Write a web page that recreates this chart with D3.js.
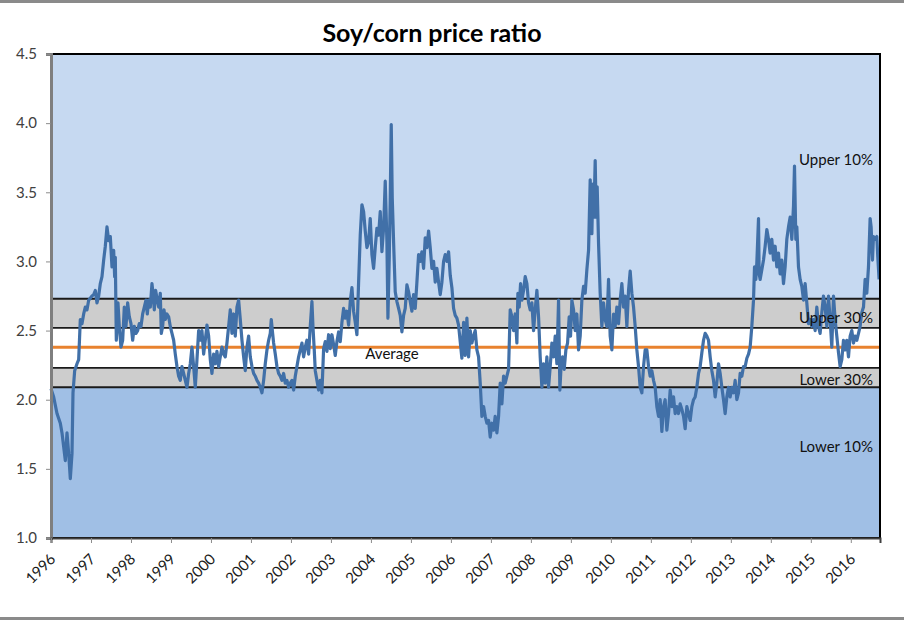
<!DOCTYPE html>
<html>
<head>
<meta charset="utf-8">
<script src="https://cdn.jsdelivr.net/npm/d3@7"></script>
<style>
  body { margin: 0; background: #fff; }
  text { font-family: Lato, "Open Sans", sans-serif; }
</style>
</head>
<body>
<div id="chart"></div>
<script>
"use strict";

// soy/corn ratio: [decimal year, ratio]
var ratioSeries = [
  [1996.000,2.08],[1996.067,2.02],[1996.150,1.90],[1996.233,1.83],[1996.275,1.76],[1996.317,1.66],[1996.358,1.56],[1996.400,1.76],[1996.442,1.61],[1996.483,1.43],[1996.525,1.61],[1996.550,2.05],[1996.592,2.21],[1996.650,2.26],[1996.692,2.29],[1996.733,2.58],[1996.775,2.55],[1996.817,2.62],[1996.858,2.67],[1996.900,2.65],[1996.942,2.72],
  [1997.025,2.75],[1997.067,2.76],[1997.108,2.79],[1997.150,2.70],[1997.192,2.75],[1997.233,2.84],[1997.275,2.89],[1997.317,3.01],[1997.358,3.11],[1997.400,3.25],[1997.442,3.15],[1997.483,3.18],[1997.525,2.96],[1997.567,3.08],[1997.592,2.89],[1997.608,3.03],[1997.633,2.43],[1997.675,2.70],[1997.708,2.53],[1997.750,2.38],[1997.792,2.43],[1997.833,2.67],[1997.875,2.53],[1997.917,2.70],[1997.958,2.60],
  [1998.000,2.55],[1998.042,2.43],[1998.083,2.53],[1998.125,2.48],[1998.167,2.50],[1998.208,2.55],[1998.250,2.53],[1998.292,2.62],[1998.333,2.67],[1998.375,2.72],[1998.408,2.62],[1998.442,2.72],[1998.483,2.67],[1998.525,2.84],[1998.550,2.77],[1998.583,2.65],[1998.617,2.79],[1998.658,2.72],[1998.692,2.67],[1998.733,2.77],[1998.758,2.48],[1998.792,2.53],[1998.825,2.65],[1998.858,2.58],[1998.900,2.62],[1998.942,2.60],[1998.983,2.53],
  [1999.025,2.48],[1999.067,2.43],[1999.108,2.33],[1999.150,2.24],[1999.192,2.17],[1999.233,2.14],[1999.275,2.24],[1999.317,2.19],[1999.358,2.14],[1999.400,2.09],[1999.442,2.19],[1999.483,2.26],[1999.525,2.38],[1999.567,2.24],[1999.608,2.09],[1999.650,2.29],[1999.692,2.50],[1999.733,2.43],[1999.775,2.50],[1999.817,2.33],[1999.858,2.43],[1999.900,2.54],[1999.942,2.46],[1999.983,2.29],
  [2000.025,2.19],[2000.067,2.33],[2000.108,2.26],[2000.150,2.35],[2000.192,2.24],[2000.233,2.31],[2000.275,2.38],[2000.317,2.33],[2000.358,2.31],[2000.400,2.41],[2000.442,2.53],[2000.483,2.65],[2000.525,2.48],[2000.567,2.62],[2000.608,2.46],[2000.650,2.67],[2000.692,2.72],[2000.733,2.58],[2000.775,2.43],[2000.817,2.31],[2000.858,2.21],[2000.900,2.38],[2000.942,2.46],[2000.983,2.31],
  [2001.025,2.24],[2001.067,2.19],[2001.108,2.17],[2001.150,2.14],[2001.192,2.12],[2001.233,2.09],[2001.275,2.05],[2001.317,2.14],[2001.358,2.26],[2001.400,2.36],[2001.442,2.43],[2001.483,2.48],[2001.508,2.58],[2001.542,2.48],[2001.567,2.41],[2001.608,2.33],[2001.650,2.24],[2001.692,2.19],[2001.733,2.17],[2001.775,2.14],[2001.817,2.19],[2001.858,2.12],[2001.900,2.14],[2001.942,2.09],[2001.983,2.12],
  [2002.025,2.14],[2002.067,2.07],[2002.108,2.17],[2002.150,2.24],[2002.192,2.31],[2002.233,2.36],[2002.275,2.41],[2002.317,2.31],[2002.358,2.38],[2002.400,2.43],[2002.442,2.33],[2002.483,2.53],[2002.525,2.71],[2002.550,2.53],[2002.583,2.36],[2002.608,2.21],[2002.650,2.14],[2002.692,2.07],[2002.733,2.14],[2002.775,2.05],[2002.817,2.37],[2002.858,2.42],[2002.900,2.35],[2002.942,2.47],[2002.983,2.37],
  [2003.025,2.47],[2003.067,2.40],[2003.108,2.32],[2003.150,2.42],[2003.192,2.49],[2003.233,2.42],[2003.275,2.56],[2003.317,2.66],[2003.358,2.59],[2003.400,2.64],[2003.442,2.54],[2003.483,2.71],[2003.525,2.81],[2003.567,2.64],[2003.608,2.56],[2003.650,2.47],[2003.692,2.85],[2003.733,3.19],[2003.775,3.41],[2003.817,3.36],[2003.858,3.22],[2003.900,3.10],[2003.942,3.14],[2003.983,3.31],
  [2004.025,3.05],[2004.067,2.95],[2004.108,3.10],[2004.150,3.24],[2004.192,3.19],[2004.233,3.36],[2004.275,3.07],[2004.317,3.24],[2004.358,3.58],[2004.400,3.14],[2004.425,2.59],[2004.458,3.02],[2004.483,3.46],[2004.508,3.99],[2004.533,3.46],[2004.567,3.14],[2004.608,2.78],[2004.650,2.71],[2004.692,2.66],[2004.733,2.61],[2004.775,2.49],[2004.817,2.61],[2004.858,2.66],[2004.900,2.83],[2004.942,2.78],[2004.983,2.71],
  [2005.025,2.64],[2005.067,2.76],[2005.108,2.66],[2005.150,2.85],[2005.192,3.05],[2005.233,3.00],[2005.275,3.07],[2005.317,2.95],[2005.358,3.17],[2005.400,3.10],[2005.442,3.22],[2005.483,3.10],[2005.525,2.95],[2005.567,3.00],[2005.608,2.85],[2005.650,2.95],[2005.692,2.85],[2005.733,2.76],[2005.775,2.85],[2005.817,3.00],[2005.858,3.05],[2005.900,3.00],[2005.942,3.07],[2005.983,2.90],
  [2006.025,2.81],[2006.067,2.66],[2006.108,2.61],[2006.150,2.59],[2006.192,2.54],[2006.233,2.42],[2006.275,2.30],[2006.317,2.56],[2006.358,2.32],[2006.400,2.59],[2006.442,2.31],[2006.483,2.50],[2006.525,2.41],[2006.567,2.46],[2006.608,2.50],[2006.650,2.36],[2006.692,2.31],[2006.733,2.12],[2006.775,1.88],[2006.817,1.95],[2006.858,1.88],[2006.900,1.83],[2006.942,1.85],[2006.983,1.73],
  [2007.025,1.83],[2007.067,1.78],[2007.108,1.88],[2007.150,1.76],[2007.192,1.88],[2007.233,2.12],[2007.275,1.97],[2007.317,2.17],[2007.358,2.12],[2007.400,2.17],[2007.442,2.22],[2007.483,2.65],[2007.525,2.60],[2007.567,2.50],[2007.608,2.62],[2007.650,2.41],[2007.675,2.77],[2007.708,2.67],[2007.742,2.84],[2007.775,2.72],[2007.817,2.79],[2007.858,2.89],[2007.900,2.84],[2007.942,2.70],[2007.983,2.65],
  [2008.025,2.70],[2008.067,2.50],[2008.108,2.65],[2008.150,2.79],[2008.192,2.60],[2008.233,2.31],[2008.275,2.09],[2008.317,2.26],[2008.358,2.12],[2008.400,2.31],[2008.442,2.09],[2008.483,2.24],[2008.525,2.41],[2008.567,2.31],[2008.608,2.46],[2008.650,2.26],[2008.692,2.72],[2008.725,2.07],[2008.758,2.26],[2008.792,2.31],[2008.833,2.22],[2008.875,2.36],[2008.917,2.41],[2008.958,2.60],[2008.992,2.46],
  [2009.025,2.72],[2009.067,2.65],[2009.108,2.50],[2009.150,2.62],[2009.192,2.36],[2009.233,2.46],[2009.275,2.72],[2009.317,2.82],[2009.358,2.77],[2009.400,2.94],[2009.442,3.08],[2009.483,3.59],[2009.525,3.20],[2009.550,3.56],[2009.575,3.32],[2009.608,3.73],[2009.633,3.32],[2009.658,3.54],[2009.692,3.13],[2009.733,2.77],[2009.775,2.53],[2009.817,2.70],[2009.858,2.58],[2009.900,2.53],[2009.942,2.87],[2009.983,2.46],
  [2010.025,2.36],[2010.067,2.62],[2010.108,2.53],[2010.150,2.67],[2010.192,2.55],[2010.233,2.72],[2010.275,2.84],[2010.317,2.67],[2010.358,2.75],[2010.400,2.53],[2010.442,2.79],[2010.483,2.93],[2010.525,2.77],[2010.567,2.67],[2010.608,2.53],[2010.650,2.36],[2010.692,2.24],[2010.733,2.09],[2010.775,2.05],[2010.817,2.24],[2010.858,2.36],[2010.900,2.36],[2010.942,2.24],[2010.983,2.17],
  [2011.025,2.21],[2011.067,2.14],[2011.108,2.09],[2011.150,1.95],[2011.192,1.88],[2011.233,2.00],[2011.275,1.77],[2011.317,1.95],[2011.358,2.00],[2011.400,1.78],[2011.442,1.90],[2011.483,2.07],[2011.525,1.95],[2011.567,2.02],[2011.608,1.90],[2011.650,1.95],[2011.692,1.90],[2011.733,1.97],[2011.775,1.93],[2011.817,1.88],[2011.858,1.79],[2011.900,1.95],[2011.942,1.90],[2011.983,1.85],
  [2012.025,1.95],[2012.067,2.00],[2012.108,2.02],[2012.150,2.09],[2012.192,2.19],[2012.233,2.24],[2012.275,2.34],[2012.317,2.43],[2012.358,2.48],[2012.400,2.46],[2012.442,2.43],[2012.483,2.31],[2012.525,2.21],[2012.567,2.14],[2012.608,2.02],[2012.650,2.12],[2012.692,2.26],[2012.733,2.19],[2012.775,2.09],[2012.817,2.00],[2012.858,1.90],[2012.900,2.02],[2012.942,2.09],[2012.983,2.02],
  [2013.025,2.09],[2013.067,2.05],[2013.108,2.14],[2013.150,2.00],[2013.192,2.05],[2013.233,2.19],[2013.275,2.17],[2013.317,2.24],[2013.358,2.24],[2013.400,2.30],[2013.442,2.33],[2013.483,2.38],[2013.525,2.53],[2013.567,2.72],[2013.592,2.96],[2013.625,2.87],[2013.650,2.99],[2013.692,3.31],[2013.708,2.91],[2013.733,2.87],[2013.775,2.94],[2013.817,3.01],[2013.858,3.11],[2013.900,3.23],[2013.942,3.16],[2013.983,3.06],
  [2014.025,3.16],[2014.067,3.01],[2014.108,3.11],[2014.150,2.96],[2014.192,3.06],[2014.233,2.91],[2014.275,3.01],[2014.317,2.84],[2014.358,2.96],[2014.400,3.16],[2014.442,3.25],[2014.483,3.32],[2014.525,3.16],[2014.567,3.40],[2014.592,3.69],[2014.625,3.16],[2014.650,3.25],[2014.692,2.96],[2014.733,2.87],[2014.775,2.82],[2014.817,2.72],[2014.858,2.84],[2014.900,2.70],[2014.942,2.55],[2014.983,2.58],
  [2015.025,2.53],[2015.067,2.58],[2015.108,2.50],[2015.150,2.67],[2015.192,2.53],[2015.233,2.48],[2015.275,2.63],[2015.317,2.75],[2015.358,2.67],[2015.400,2.53],[2015.442,2.75],[2015.483,2.58],[2015.525,2.38],[2015.567,2.75],[2015.608,2.58],[2015.650,2.46],[2015.692,2.34],[2015.733,2.24],[2015.775,2.29],[2015.817,2.43],[2015.858,2.36],[2015.900,2.43],[2015.942,2.31],[2015.983,2.46],
  [2016.025,2.50],[2016.067,2.41],[2016.108,2.46],[2016.150,2.43],[2016.192,2.48],[2016.233,2.53],[2016.275,2.63],[2016.317,2.67],[2016.358,2.87],[2016.400,2.77],[2016.442,2.96],[2016.483,3.31],[2016.508,3.25],[2016.542,3.01],[2016.567,3.18],[2016.608,3.16],[2016.650,3.18],[2016.675,3.03],[2016.708,2.87]
];

// band boundaries (percentile levels) and the long-run average
var bandNames  = ["Lower 10%", "Lower 30%", "Upper 30%", "Upper 10%"];
var bandLevels = [2.09, 2.23, 2.52, 2.73];
var averageLevel = 2.38;

var yTicks = [1.0, 1.5, 2.0, 2.5, 3.0, 3.5, 4.0, 4.5];
var xTicks = d3.range(1996, 2017);

var width = 904, height = 620;
var margin = { top: 54, right: 24, bottom: 82, left: 51 };

var svg = d3.select("#chart").append("svg")
  .attr("width", width)
  .attr("height", height);

// outer chart frame, only top and bottom edges show
svg.append("line").attr("x1", 0).attr("x2", width).attr("y1", 1.5).attr("y2", 1.5)
  .attr("stroke", "#8a8a8a").attr("stroke-width", 3);
svg.append("line").attr("x1", 0).attr("x2", width).attr("y1", 618.5).attr("y2", 618.5)
  .attr("stroke", "#8a8a8a").attr("stroke-width", 3);

var x = d3.scaleLinear()
  .domain([1996, 2016.73])
  .range([margin.left, width - margin.right]);

var y = d3.scaleLinear()
  .domain([1.0, 4.5])
  .range([height - margin.bottom, margin.top]);

/*
 * background zones
 */
var zoneEdges = [1.0].concat(bandLevels, [4.5]);
var zoneFills = ["#a0bfe5", "#cdcdcd", "#ffffff", "#cdcdcd", "#c6d9f1"];

svg.append("g").selectAll("rect")
  .data(d3.range(zoneFills.length))
  .enter().append("rect")
  .attr("x", x.range()[0])
  .attr("width", x.range()[1] - x.range()[0])
  .attr("y", function (i) { return y(zoneEdges[i + 1]); })
  .attr("height", function (i) { return y(zoneEdges[i]) - y(zoneEdges[i + 1]); })
  .attr("fill", function (i) { return zoneFills[i]; });

svg.append("g").selectAll("line")
  .data(bandLevels)
  .enter().append("line")
  .attr("x1", x.range()[0]).attr("x2", x.range()[1])
  .attr("y1", function (d) { return y(d); })
  .attr("y2", function (d) { return y(d); })
  .attr("stroke", "#1a1a1a")
  .attr("stroke-width", 1.8);

svg.append("line")
  .attr("x1", x.range()[0]).attr("x2", x.range()[1])
  .attr("y1", y(averageLevel)).attr("y2", y(averageLevel))
  .attr("stroke", "#e8822e")
  .attr("stroke-width", 3);

/*
 * the ratio line
 */
var line = d3.line()
  .x(function (d) { return x(d[0]); })
  .y(function (d) { return y(d[1]); });

svg.append("path")
  .datum(ratioSeries)
  .attr("fill", "none")
  .attr("stroke", "#4170a8")
  .attr("stroke-width", 3.2)
  .attr("stroke-linejoin", "round")
  .attr("d", line);

// plot border
svg.append("rect")
  .attr("x", x.range()[0]).attr("y", y.range()[1])
  .attr("width", x.range()[1] - x.range()[0])
  .attr("height", y.range()[0] - y.range()[1])
  .attr("fill", "none")
  .attr("stroke", "#000")
  .attr("stroke-width", 2);

/*
 * axes
 */
var yAxis = d3.axisLeft(y)
  .tickValues(yTicks)
  .tickFormat(d3.format(".1f"))
  .tickSize(5)
  .tickPadding(9);

var gy = svg.append("g")
  .attr("transform", "translate(" + margin.left + ",0)")
  .call(yAxis);
gy.select(".domain").attr("stroke", "#7f7f7f").attr("stroke-width", 3);
gy.selectAll(".tick line").attr("stroke", "#8c8c8c");
gy.selectAll(".tick text")
  .style("font-size", "15px")
  .attr("fill", "#404040");

var xAxis = d3.axisBottom(x)
  .tickValues(xTicks)
  .tickFormat(d3.format("d"))
  .tickSize(5);

var gx = svg.append("g")
  .attr("transform", "translate(0," + (height - margin.bottom) + ")")
  .call(xAxis);
gx.select(".domain").attr("stroke", "#404040").attr("stroke-width", 2);
gx.selectAll(".tick line").attr("stroke", "#8c8c8c");
gx.selectAll(".tick text")
  .attr("x", 0).attr("y", 0).attr("dy", 0)
  .attr("text-anchor", "end")
  .attr("transform", "translate(5,22) rotate(-45)")
  .style("font-size", "15px")
  .attr("fill", "#1a1a1a");

/*
 * title and zone labels
 */
svg.append("text")
  .attr("x", 432).attr("y", 42)
  .attr("text-anchor", "middle")
  .style("font-size", "25px")
  .style("font-weight", "bold")
  .text("Soy/corn price ratio");

var labelY = {
  "Upper 10%": 3.70,
  "Upper 30%": 2.555,
  "Lower 30%": 2.105,
  "Lower 10%": 1.62
};

svg.append("g").selectAll("text")
  .data(bandNames)
  .enter().append("text")
  .attr("x", 873)
  .attr("y", function (d) { return y(labelY[d]); })
  .attr("text-anchor", "end")
  .style("font-size", "15px")
  .attr("fill", "#111")
  .text(function (d) { return d; });

svg.append("text")
  .attr("x", 392).attr("y", y(averageLevel) + 12)
  .attr("text-anchor", "middle")
  .style("font-size", "15px")
  .attr("fill", "#111")
  .text("Average");
</script>
</body>
</html>
